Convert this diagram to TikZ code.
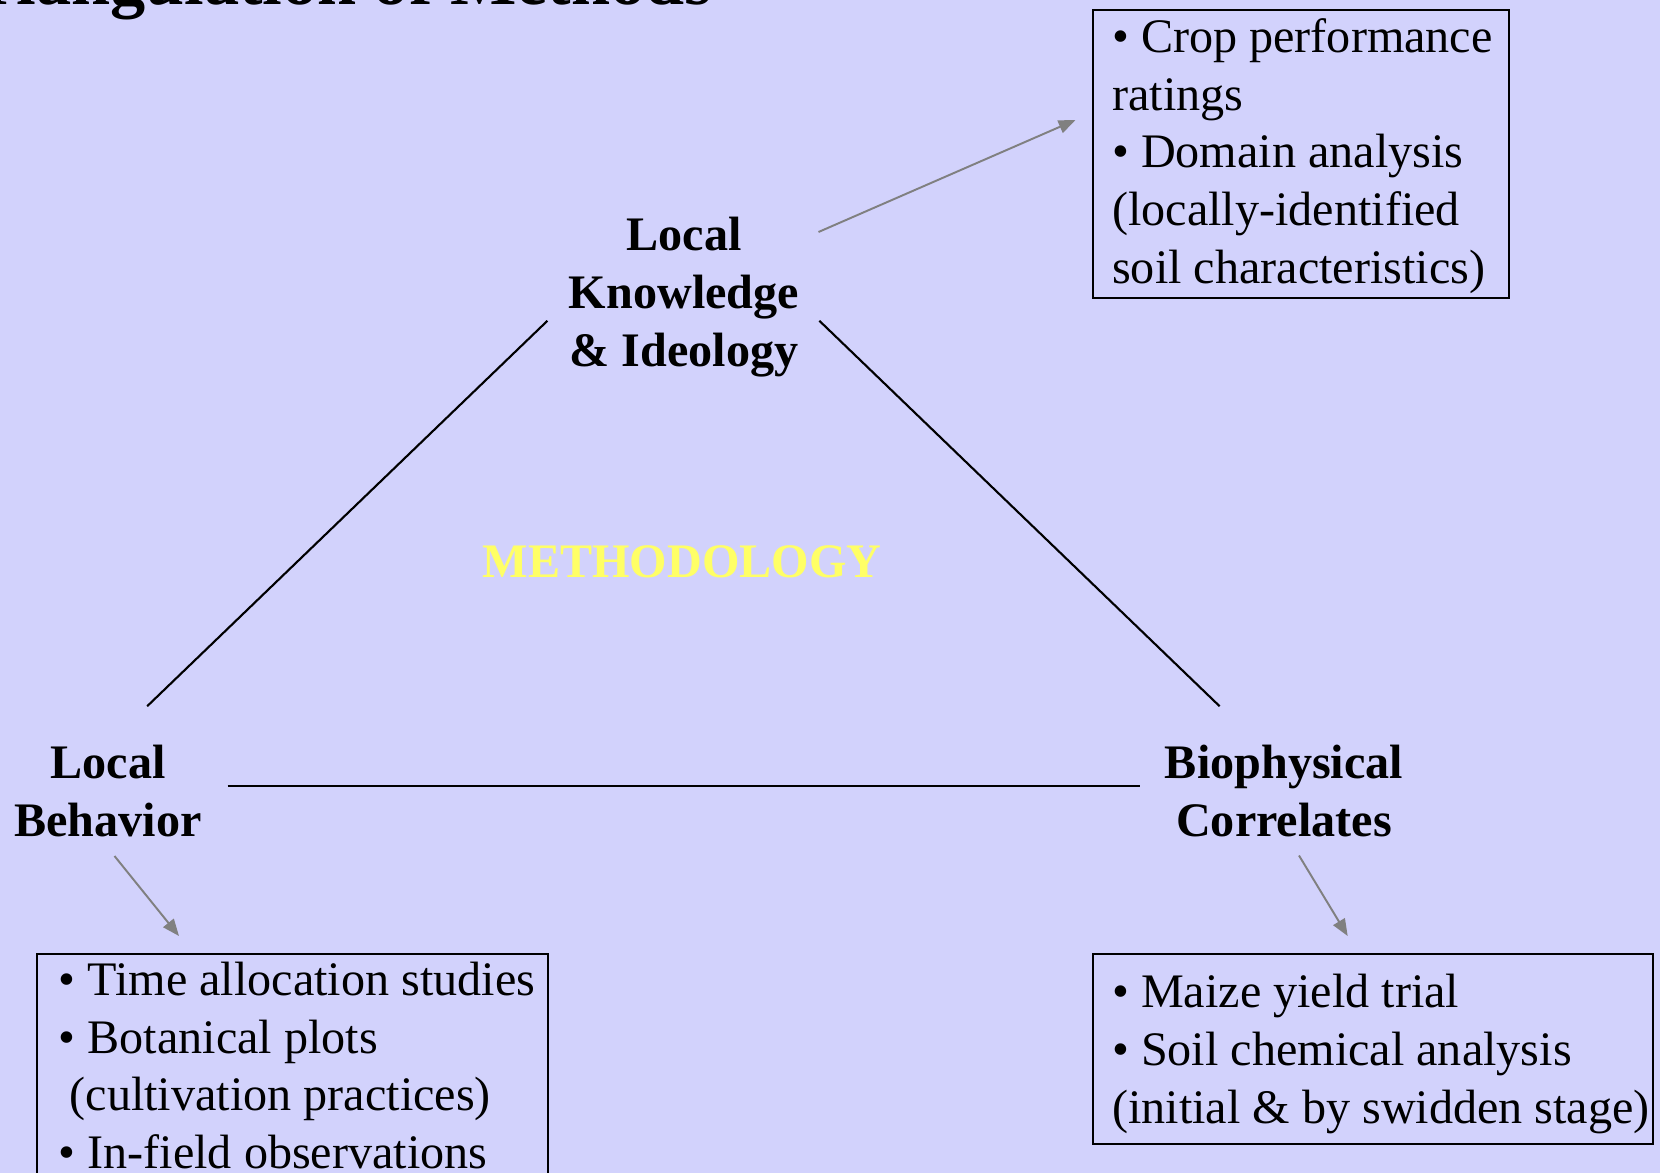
\documentclass[tikz,border=0pt]{standalone}
\usepackage{fontspec}
\setmainfont{Liberation Serif}
\usepackage{xcolor}
\usepackage{tikz}
\usetikzlibrary{arrows.meta,positioning,calc}
\definecolor{triInk}{HTML}{000000}
\definecolor{triSlide}{RGB}{210,210,252}
\definecolor{triLead}{HTML}{808080}
\definecolor{triGlow}{HTML}{FFFF66}
\tikzset{
  % One slide pixel is .1mm; y grows downwards like the slide.
  % Multi-line texts are placed at the baseline of their last line.
  tri/base/.style={
    font=\rmfamily\fontsize{13.7pt}{16.4pt}\selectfont,
    text=triInk,
    line cap=butt,
    line join=miter
  },
  tri/title/.style={
    font=\rmfamily\bfseries\fontsize{20pt}{23pt}\selectfont,
    anchor=base west,
    inner sep=0pt
  },
  tri/corner/.style={
    font=\rmfamily\bfseries\fontsize{13.7pt}{16.4pt}\selectfont,
    align=center,
    anchor=base,
    inner sep=0pt
  },
  tri/centre/.style={
    font=\rmfamily\bfseries\fontsize{13.7pt}{16.4pt}\selectfont,
    text=triGlow,
    anchor=base,
    inner sep=0pt
  },
  tri/list box/.style={
    draw=triInk,
    line width=.6pt,
    anchor=north west,
    inner sep=0pt
  },
  tri/list text/.style={
    align=left,
    anchor=base west,
    inner sep=0pt
  },
  tri/side/.style={
    draw=triInk,
    line width=.6pt
  },
  tri/lead/.style={
    -{Triangle[length=4.8pt,width=3.8pt]},
    draw=triLead,
    line width=.55pt
  }
}

\begin{document}
\begin{tikzpicture}[tri/base,x=.1mm,y=-.1mm]
  \path[use as bounding box,fill=triSlide] (0,0) rectangle (1660,1173);
  \node[tri/title] (title) at (-57,4) {Triangulation of Methods};

  % corners of the triangle
  \node[tri/corner] (know) at (684,366) {Local\\Knowledge\\\& Ideology};
  \node[tri/corner] (behav) at (108,836) {Local\\Behavior};
  \node[tri/corner] (bio) at (1284,836) {Biophysical\\Correlates};
  \node[tri/centre] (method) at (682,577) {METHODOLOGY};

  \coordinate (know-sw) at (547.4,320.8);
  \coordinate (know-se) at (819.4,320.8);
  \coordinate (behav-ne) at (147.2,706.2);
  \coordinate (behav-e) at (227.6,785.6);
  \coordinate (bio-nw) at (1219.6,706.2);
  \coordinate (bio-w) at (1140.2,785.6);
  \draw[tri/side] (know-sw)--(behav-ne);
  \draw[tri/side] (know-se)--(bio-nw);
  \draw[tri/side] (behav-e)--(bio-w);

  % method lists
  \node[tri/list box,minimum width=41.6mm,minimum height=28.8mm]
    (cropbox) at (1091.5,8.5) {};
  \node[tri/list text] (croptext) at (1111.5,283)
    {\textbullet\ Crop performance\\ratings\\\textbullet\ Domain analysis\\
     (locally-identified\\soil characteristics)};
  \node[tri/list box,minimum width=51.1mm,minimum height=23.7mm]
    (fieldbox) at (36,953) {};
  \node[tri/list text] (fieldtext) at (58,1168.5)
    {\textbullet\ Time allocation studies\\\textbullet\ Botanical plots\\
     \hspace*{1.1mm}(cultivation practices)\\\textbullet\ In-field observations};
  \node[tri/list box,minimum width=56.0mm,minimum height=19.0mm]
    (soilbox) at (1091.5,953) {};
  \node[tri/list text] (soiltext) at (1111.5,1123)
    {\textbullet\ Maize yield trial\\\textbullet\ Soil chemical analysis\\
     (initial \& by swidden stage)};

  \coordinate (know-ne) at (818.5,232);
  \coordinate (crop-in) at (1075.5,120);
  \coordinate (behav-s) at (114.5,856);
  \coordinate (field-in) at (179,936);
  \coordinate (bio-s) at (1299,855.5);
  \coordinate (soil-in) at (1347.7,936);
  \draw[tri/lead] (know-ne)--(crop-in);
  \draw[tri/lead] (behav-s)--(field-in);
  \draw[tri/lead] (bio-s)--(soil-in);
\end{tikzpicture}
\end{document}
